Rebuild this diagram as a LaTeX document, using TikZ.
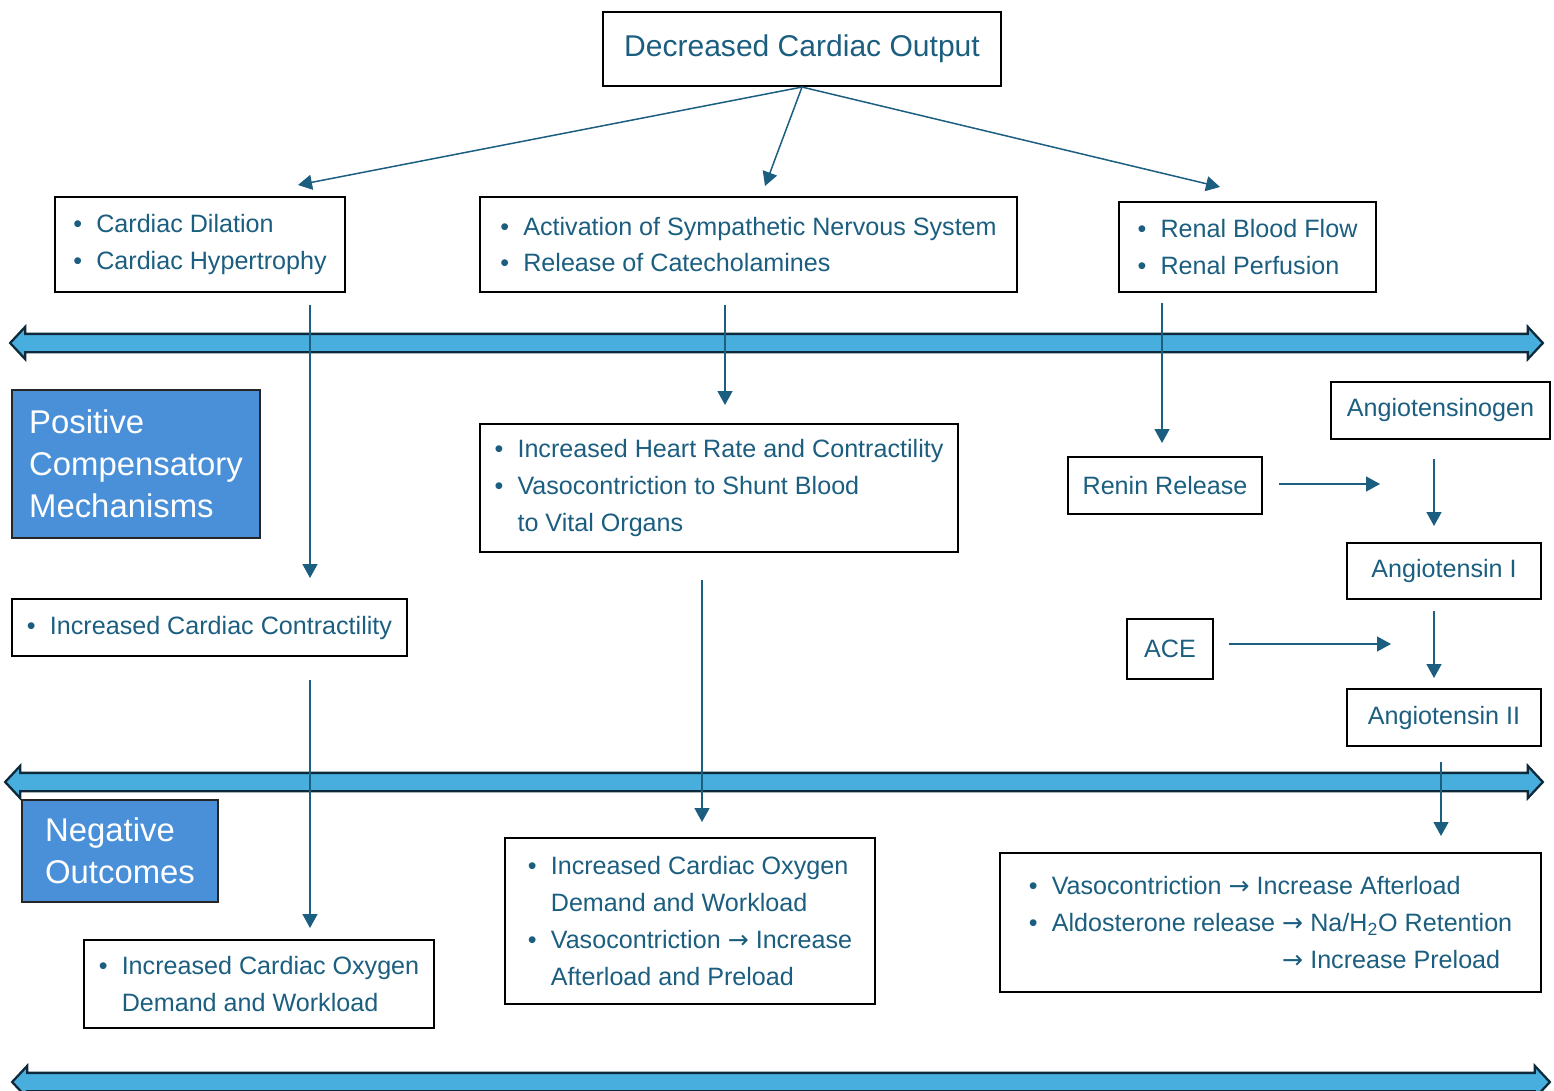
\documentclass[tikz,border=0pt]{standalone}
\usepackage{fontspec}
\setmainfont{Liberation Sans}
\newfontfamily\arrowfont{DejaVu Sans}
\usepackage{xcolor}
\usepackage{tikz}
\usetikzlibrary{arrows.meta}
\usetikzlibrary{shapes.arrows}
\definecolor{deepteal}{RGB}{27,94,128}
\definecolor{boxblue}{RGB}{74,144,216}
\definecolor{bandfill}{RGB}{71,174,222}
\definecolor{bandline}{RGB}{14,42,58}
\newcommand{\bul}{\makebox[0.46cm][l]{\textbullet}}
\newcommand{\ind}{\hspace*{0.46cm}}
\newcommand{\tto}{{\arrowfont →}}

\begin{document}
\begin{tikzpicture}
[x=0.02cm,y=-0.02cm,
frme/.style={rectangle,draw=black,line width=1.2pt,text=deepteal,align=left,inner sep=0pt,font=\fontsize{14.3}{21}\selectfont},
labl/.style={rectangle,draw=black!85,line width=1.2pt,fill=boxblue,text=white,align=left,inner sep=0pt,font=\fontsize{18.7}{23.9}\selectfont},
band/.style={double arrow,draw=bandline,fill=bandfill,line width=1.3pt,inner xsep=0pt,inner ysep=0.16cm,double arrow head extend=0.14cm,double arrow tip angle=94},
conn/.style={draw=deepteal,line width=0.85pt,-{Triangle[length=0.28cm,width=0.3cm]}}]

\useasboundingbox (0,0) rectangle (1554,1091);

% separating bands
\node at (776.5,343) [band,minimum height=30.66cm] (band1) {};
\node at (774,782)   [band,minimum height=30.76cm] (band2) {};
\node at (781,1082)  [band,minimum height=30.76cm] (band3) {};

\node at (802,49) [frme,minimum width=7.96cm,minimum height=1.48cm,font=\fontsize{17.1}{21}\selectfont] (title) {Decreased Cardiac Output};

\node at (200,244.5)  [frme,minimum width=5.8cm,minimum height=1.9cm]   (dilat) {\bul Cardiac Dilation\\ \bul Cardiac Hypertrophy};
\node at (748.5,244.5)[frme,minimum width=10.74cm,minimum height=1.9cm] (symp)  {\bul Activation of Sympathetic Nervous System\\ \bul Release of Catecholamines};
\node at (1247.5,247) [frme,minimum width=5.14cm,minimum height=1.8cm]  (renal) {\bul Renal Blood Flow\\ \bul Renal Perfusion};

\node at (136,464) [labl,minimum width=4.96cm,minimum height=2.96cm] (pos) {Positive\\Compensatory\\Mechanisms};
\node at (120,851) [labl,minimum width=3.92cm,minimum height=2.04cm] (neg) {Negative\\Outcomes};

\node at (209.5,627.5) [frme,minimum width=7.9cm,minimum height=1.14cm] (contr) {\bul Increased Cardiac Contractility};
\node at (719,488)     [frme,minimum width=9.56cm,minimum height=2.56cm] (hrate) {\bul Increased Heart Rate and Contractility\\ \bul Vasocontriction to Shunt Blood\\ \ind to Vital Organs};

\node at (1165,485.5)  [frme,minimum width=3.88cm,minimum height=1.14cm] (renin) {Renin Release};
\node at (1440.5,410.5)[frme,minimum width=4.38cm,minimum height=1.14cm] (angen) {Angiotensinogen};
\node at (1444,571)    [frme,minimum width=3.88cm,minimum height=1.12cm] (angone) {Angiotensin I};
\node at (1170,649)    [frme,minimum width=1.72cm,minimum height=1.2cm]  (ace)   {ACE};
\node at (1444,717.5)  [frme,minimum width=3.88cm,minimum height=1.14cm] (angtwo) {Angiotensin II};

\node at (259,984)     [frme,minimum width=7cm,minimum height=1.76cm]    (oxya) {\bul Increased Cardiac Oxygen\\ \ind Demand and Workload};
\node at (690,921)     [frme,minimum width=7.4cm,minimum height=3.32cm]  (oxyb) {\bul Increased Cardiac Oxygen\\ \ind Demand and Workload\\ \bul Vasocontriction \tto{} Increase\\ \ind Afterload and Preload};
\node at (1270.5,922.5)[frme,minimum width=10.82cm,minimum height=2.78cm] (raas) {\bul Vasocontriction \tto{} Increase Afterload\\ \bul Aldosterone release \tto{} Na/H\textsubscript{2}O Retention\\ \ind\phantom{Aldosterone release }\tto{} Increase Preload};

% free ends of the connectors
\coordinate (ta) at (298,185);
\coordinate (tb) at (765,186);
\coordinate (tc) at (1220,187);
\coordinate (da) at (310,305);
\coordinate (db) at (310,578);
\coordinate (dc) at (310,680);
\coordinate (dd) at (310,928);
\coordinate (sa) at (725,305);
\coordinate (sb) at (725,405);
\coordinate (sc) at (702,580);
\coordinate (sd) at (702,822);
\coordinate (ra) at (1162,303);
\coordinate (rb) at (1162,443);
\coordinate (rc) at (1380,484);
\coordinate (ga) at (1434,459);
\coordinate (gb) at (1434,526);
\coordinate (ca) at (1391,644);
\coordinate (gc) at (1434,611);
\coordinate (gd) at (1434,678);
\coordinate (ge) at (1441,762);
\coordinate (gf) at (1441,836);

\draw [conn] (title.south) to (ta);
\draw [conn] (title.south) to (tb);
\draw [conn] (title.south) to (tc);
\draw [conn] (da) to (db);
\draw [conn] (dc) to (dd);
\draw [conn] (sa) to (sb);
\draw [conn] (sc) to (sd);
\draw [conn] (ra) to (rb);
\draw [conn,shorten <=0.32cm] (renin.east |- rc) to (rc);
\draw [conn] (ga) to (gb);
\draw [conn,shorten <=0.3cm] (ace.east |- ca) to (ca);
\draw [conn] (gc) to (gd);
\draw [conn] (ge) to (gf);
\end{tikzpicture}
\end{document}
